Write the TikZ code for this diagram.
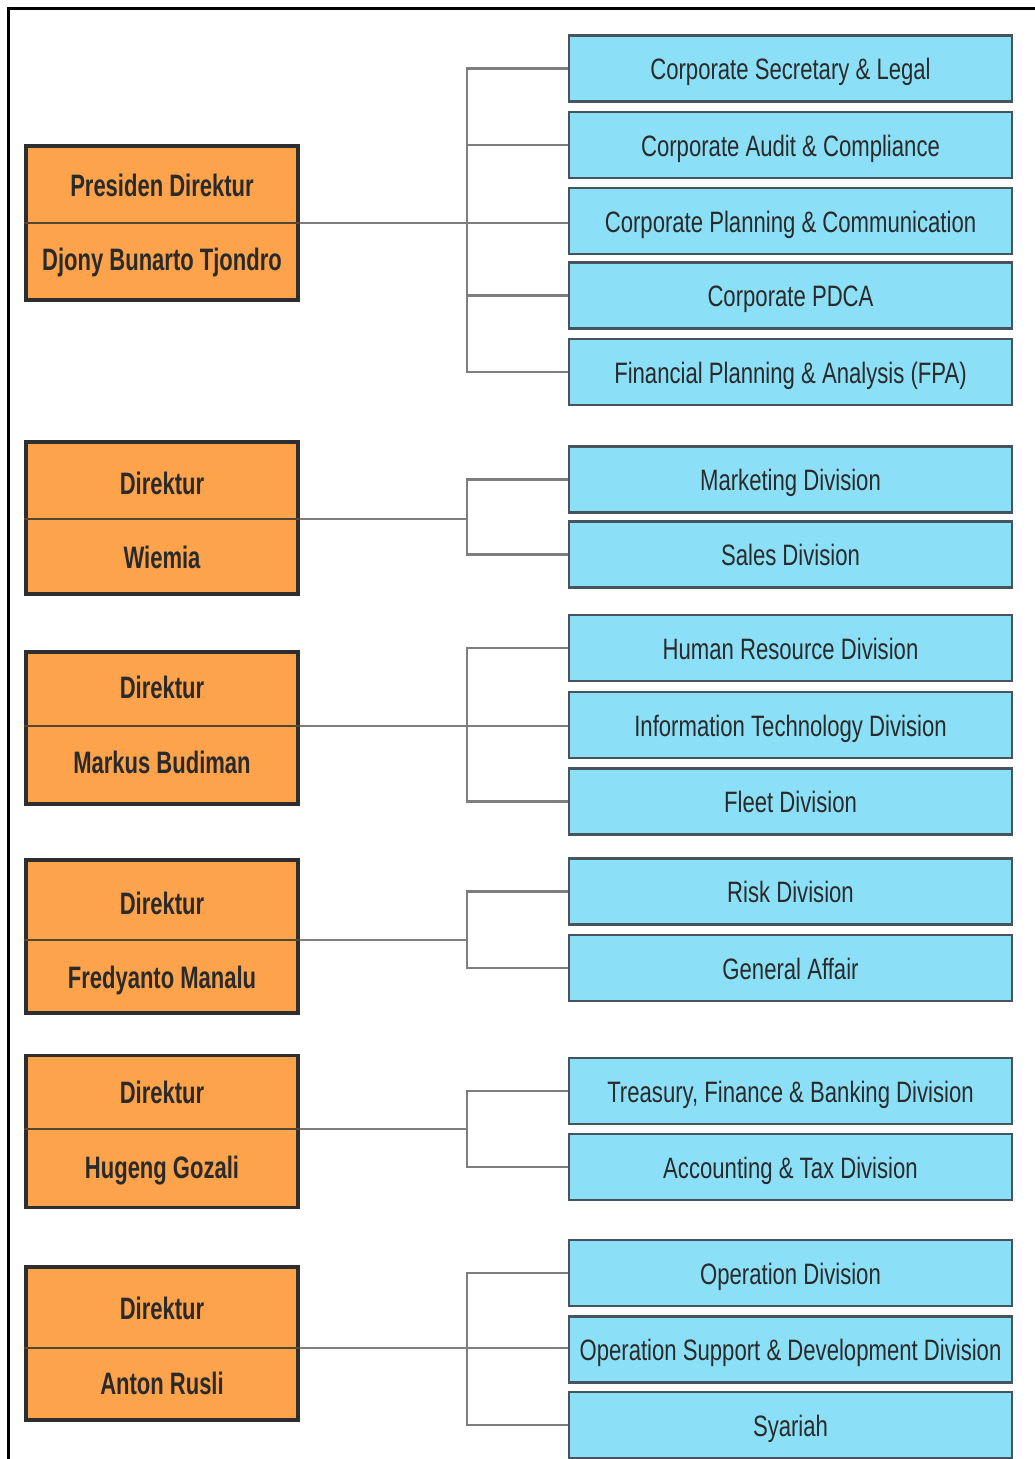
\documentclass[tikz,border=0pt]{standalone}
\usepackage{fontspec}
\newfontfamily\unitfont{Liberation Sans}[FakeStretch=0.75]
\newfontfamily\headfont{Liberation Sans}[FakeStretch=0.71]
\definecolor{unitblue}{HTML}{8BE0F7}
\definecolor{headorange}{HTML}{FCA34B}
\definecolor{headline}{HTML}{2E2E2E}
\definecolor{unitline}{HTML}{46545E}
\definecolor{linkgray}{HTML}{7E7E7E}
\definecolor{ink}{HTML}{2A2A2A}
\tikzset{
  unitbox/.style={draw=unitline, line width=2.4pt, fill=unitblue,
    minimum width=443pt, minimum height=66pt, inner sep=0pt,
    text height=28pt, text depth=6pt, text=ink,
    font=\unitfont\fontsize{29.5}{32}\selectfont},
  headbox/.style={draw=headline, line width=3.4pt, fill=headorange,
    minimum width=272pt, inner sep=0pt},
  headtext/.style={inner sep=0pt, text height=29pt, text depth=7pt, text=ink,
    font=\headfont\bfseries\fontsize{31}{34}\selectfont},
  divider/.style={draw=headline!80!headorange, line width=2pt},
  link/.style={draw=linkgray, line width=2.4pt},
  frame/.style={draw=black, line width=3pt}
}
\begin{document}
\begin{tikzpicture}[x=1pt, y=-1pt]
\useasboundingbox (0,0) rectangle (1035,1459);
% outer frame
\coordinate (ftl) at (8,8);
\coordinate (ftr) at (1035,8);
\coordinate (fbl) at (8,1459);
\draw[frame] (fbl) -- (ftl) -- (ftr);

% ---------------- Presiden Direktur ----------------
\node[headbox, minimum height=154pt] (d1) at (162,223) {};
\coordinate (j1) at (467,223);
\draw[divider] (d1.west |- j1) -- (d1.east |- j1);
\node[headtext] (d1t) at (162,185) {Presiden Direktur};
\node[headtext] (d1n) at (162,259) {Djony Bunarto Tjondro};
\node[unitbox] (u11) at (790.5,68.5) {Corporate Secretary \& Legal};
\node[unitbox] (u12) at (790.5,145) {Corporate Audit \& Compliance};
\node[unitbox] (u13) at (790.5,221) {Corporate Planning \& Communication};
\node[unitbox] (u14) at (790.5,295.5) {Corporate PDCA};
\node[unitbox] (u15) at (790.5,372) {Financial Planning \& Analysis (FPA)};
\draw[link] (u11.west) -- (u11.west -| j1) -- (u15.west -| j1) -- (u15.west);
\draw[link] (u12.west) -- (u12.west -| j1);
\draw[link] (u14.west) -- (u14.west -| j1);
\draw[link] (d1.east |- j1) -- (j1 -| u13.west);

% ---------------- Direktur Wiemia ----------------
\node[headbox, minimum height=152pt] (d2) at (162,518) {};
\coordinate (j2) at (467,519);
\draw[divider] (d2.west |- j2) -- (d2.east |- j2);
\node[headtext] (d2t) at (162,483) {Direktur};
\node[headtext] (d2n) at (162,557) {Wiemia};
\node[unitbox] (u21) at (790.5,479.5) {Marketing Division};
\node[unitbox] (u22) at (790.5,554.5) {Sales Division};
\draw[link] (u21.west) -- (u21.west -| j2) -- (u22.west -| j2) -- (u22.west);
\draw[link] (d2.east |- j2) -- (j2);

% ---------------- Direktur Markus Budiman ----------------
\node[headbox, minimum height=152pt] (d3) at (162,728) {};
\coordinate (j3) at (467,726);
\draw[divider] (d3.west |- j3) -- (d3.east |- j3);
\node[headtext] (d3t) at (162,687) {Direktur};
\node[headtext] (d3n) at (162,762) {Markus Budiman};
\node[unitbox] (u31) at (790.5,648) {Human Resource Division};
\node[unitbox] (u32) at (790.5,725) {Information Technology Division};
\node[unitbox] (u33) at (790.5,801.5) {Fleet Division};
\draw[link] (u31.west) -- (u31.west -| j3) -- (u33.west -| j3) -- (u33.west);
\draw[link] (d3.east |- j3) -- (j3 -| u32.west);

% ---------------- Direktur Fredyanto Manalu ----------------
\node[headbox, minimum height=153pt] (d4) at (162,936.5) {};
\coordinate (j4) at (467,940);
\draw[divider] (d4.west |- j4) -- (d4.east |- j4);
\node[headtext] (d4t) at (162,903) {Direktur};
\node[headtext] (d4n) at (162,977) {Fredyanto Manalu};
\node[unitbox] (u41) at (790.5,891.5) {Risk Division};
\node[unitbox] (u42) at (790.5,968) {General Affair};
\draw[link] (u41.west) -- (u41.west -| j4) -- (u42.west -| j4) -- (u42.west);
\draw[link] (d4.east |- j4) -- (j4);

% ---------------- Direktur Hugeng Gozali ----------------
\node[headbox, minimum height=152pt] (d5) at (162,1131.5) {};
\coordinate (j5) at (467,1129);
\draw[divider] (d5.west |- j5) -- (d5.east |- j5);
\node[headtext] (d5t) at (162,1092) {Direktur};
\node[headtext] (d5n) at (162,1167) {Hugeng Gozali};
\node[unitbox] (u51) at (790.5,1091) {Treasury, Finance \& Banking Division};
\node[unitbox] (u52) at (790.5,1167) {Accounting \& Tax Division};
\draw[link] (u51.west) -- (u51.west -| j5) -- (u52.west -| j5) -- (u52.west);
\draw[link] (d5.east |- j5) -- (j5);

% ---------------- Direktur Anton Rusli ----------------
\node[headbox, minimum height=153pt] (d6) at (162,1343.5) {};
\coordinate (j6) at (467,1348);
\draw[divider] (d6.west |- j6) -- (d6.east |- j6);
\node[headtext] (d6t) at (162,1308) {Direktur};
\node[headtext] (d6n) at (162,1383) {Anton Rusli};
\node[unitbox] (u61) at (790.5,1273) {Operation Division};
\node[unitbox] (u62) at (790.5,1349.5) {Operation Support \& Development Division};
\node[unitbox] (u63) at (790.5,1425) {Syariah};
\draw[link] (u61.west) -- (u61.west -| j6) -- (u63.west -| j6) -- (u63.west);
\draw[link] (d6.east |- j6) -- (j6 -| u62.west);
\end{tikzpicture}
\end{document}
